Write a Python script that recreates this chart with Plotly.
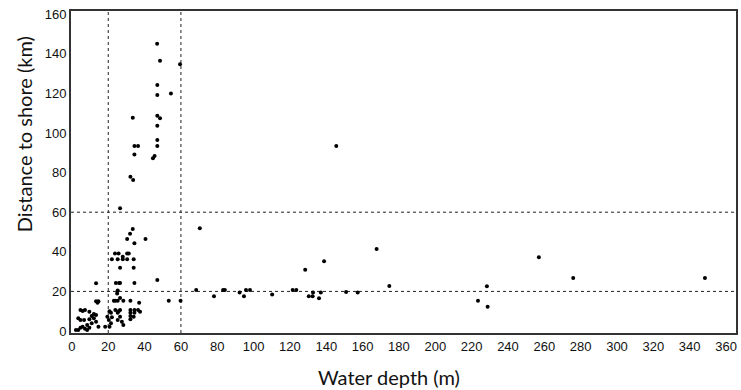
import plotly.graph_objects as go

# Water depth (m) and distance to shore (km) for each site
depth = [46.9, 48.5, 59.5, 47.0, 47.0, 54.5, 33.5, 47.0, 48.5, 47.0,
         47.0, 47.0, 34.4, 36.4, 34.4, 44.6, 45.5, 32.2, 33.7, 26.5,
         33.5, 32.0, 30.4, 40.5, 34.4, 23.7, 25.7, 30.4, 31.3, 28.0,
         22.0, 25.2, 30.4, 34.0, 26.5, 34.0, 47.0, 13.3, 24.2, 26.0,
         26.5, 34.4, 25.2, 53.3, 59.8, 14.6, 14.1, 13.3, 23.1, 23.9,
         25.2, 26.5, 28.3, 32.2, 37.0, 24.9, 4.7, 5.9, 7.2, 9.6,
         12.1, 10.9, 20.7, 23.9, 25.7, 21.5, 25.2, 26.5, 32.2, 32.2,
         34.4, 34.4, 36.4, 34.0, 32.2, 32.2, 37.5, 26.5, 27.5, 28.3,
         25.2, 22.0, 20.3, 3.5, 4.7, 5.9, 8.4, 9.6, 6.7, 4.7,
         10.9, 13.3, 14.6, 18.3, 19.5, 9.6, 3.5, 7.2, 2.2, 12.1,
         13.3, 8.4, 20.7, 21.5, 28.0,
         70.4, 68.4, 78.2, 83.2, 84.2, 92.3, 94.7, 95.8, 98.0, 110.2,
         121.5, 123.5, 128.4, 130.4, 132.7, 132.5, 136.0, 137.0, 138.8, 150.9,
         157.3, 167.7, 174.7, 223.5, 145.5, 228.4, 228.8, 257.0, 275.9, 348.4]
distance = [145.0, 136.5, 134.7, 124.2, 119.2, 120.0, 107.7, 108.7, 107.4, 103.7,
            96.5, 93.4, 93.4, 93.4, 89.2, 87.2, 88.4, 77.9, 76.3, 62.0,
            51.5, 49.1, 46.5, 46.5, 44.3, 39.2, 39.2, 39.2, 39.2, 37.5,
            36.2, 36.2, 36.2, 36.2, 32.0, 32.0, 25.8, 24.1, 24.2, 24.2,
            24.2, 24.2, 20.4, 15.3, 15.3, 15.0, 14.3, 15.0, 15.3, 15.3,
            15.3, 16.7, 15.3, 15.3, 14.3, 19.0, 10.6, 10.1, 10.6, 9.7,
            8.6, 7.6, 10.0, 10.6, 10.0, 9.2, 9.2, 10.6, 10.6, 9.2,
            10.6, 9.2, 10.6, 7.2, 7.6, 5.9, 9.7, 7.2, 4.7, 3.0,
            5.6, 6.9, 5.6, 0.5, 1.7, 2.2, 3.0, 1.7, 5.6, 5.6,
            3.9, 4.7, 2.2, 2.2, 7.2, 5.9, 6.4, 1.2, 0.5, 6.4,
            8.1, 0.5, 2.2, 3.9, 36.2,
            51.9, 20.7, 17.5, 20.7, 20.7, 19.5, 17.5, 20.7, 20.7, 18.5,
            20.7, 20.7, 31.0, 17.5, 19.5, 17.5, 16.5, 19.5, 35.2, 19.7,
            19.5, 41.4, 22.7, 15.3, 93.4, 22.6, 12.3, 37.2, 26.8, 26.8]

depth_thresholds = [20, 60]      # vertical dotted reference lines
distance_thresholds = [20, 60]   # horizontal dotted reference lines

x_ticks = list(range(0, 361, 20))
y_ticks = list(range(0, 161, 20))

fig = go.Figure()
fig.add_trace(go.Scatter(
    x=depth, y=distance, mode="markers",
    marker=dict(color="black", size=4, line=dict(width=0)),
    showlegend=False, hoverinfo="x+y"))

shapes = []
for d in depth_thresholds:
    shapes.append(dict(type="line", xref="x", yref="paper", x0=d, x1=d, y0=0, y1=1,
                       line=dict(color="#222", width=1, dash="dot"), layer="below"))
for d in distance_thresholds:
    shapes.append(dict(type="line", xref="paper", yref="y", x0=0, x1=1, y0=d, y1=d,
                       line=dict(color="#222", width=1, dash="dot"), layer="below"))

tickfont = dict(family="Liberation Sans, Arial, sans-serif", size=13, color="#111")
titlefont = dict(family="Lato, Open Sans, sans-serif", size=20, color="#111")

fig.update_layout(
    width=741, height=390,
    margin=dict(l=71, r=3, t=11, b=57),
    paper_bgcolor="white", plot_bgcolor="white",
    shapes=shapes,
    xaxis=dict(range=[-0.5, 365.5], tickvals=x_ticks, ticktext=[str(v) for v in x_ticks],
               showgrid=False, zeroline=False, showline=True, mirror=True,
               linecolor="#333", linewidth=2, ticks="", tickfont=tickfont),
    yaxis=dict(range=[-1, 161.6], tickvals=y_ticks, ticktext=[str(v) for v in y_ticks],
               showgrid=False, zeroline=False, showline=True, mirror=True,
               linecolor="#333", linewidth=2, ticks="", tickfont=tickfont),
    annotations=[
        dict(text="Water depth (m)", xref="paper", yref="paper",
             x=(390 - 71) / 667, y=-(377 - 333) / 322, xanchor="center", yanchor="middle",
             showarrow=False, font=titlefont),
        dict(text="Distance to shore (km)", xref="paper", yref="paper",
             x=-(71 - 24) / 667, y=(333 - 134) / 322, xanchor="center", yanchor="middle",
             textangle=-90, showarrow=False, font=titlefont),
    ],
)

fig.write_html("out.html")
